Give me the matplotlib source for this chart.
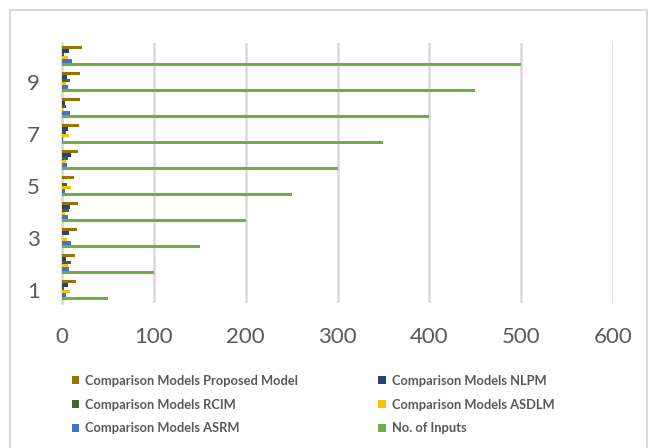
import matplotlib
matplotlib.use('Agg')
import matplotlib.pyplot as plt
from matplotlib.patches import Rectangle
import numpy as np

plt.rcParams['font.family'] = ['Lato', 'DejaVu Sans']

categories = [1, 2, 3, 4, 5, 6, 7, 8, 9, 10]
proposed = [15, 14, 16.3, 17, 12.7, 17.4, 18.5, 19.5, 20, 22]
nlpm = [7, 4, 7.2, 8.7, 0, 9.4, 6, 3, 5, 8]
rcim = [2.5, 9.4, 0.5, 8, 5.8, 7, 4, 4, 9, 2]
asdlm = [8.3, 6.5, 5, 3, 9.8, 4, 7.6, 1, 4, 7]
asrm = [4, 8, 9.4, 6.5, 3, 5.5, 1, 9, 6, 10.5]
inputs = [50, 100, 150, 200, 250, 300, 350, 400, 450, 500]

series = [
    ('No. of Inputs', inputs, '#70AD47'),
    ('Comparison Models ASRM', asrm, '#4472C4'),
    ('Comparison Models ASDLM', asdlm, '#FFC000'),
    ('Comparison Models RCIM', rcim, '#43682B'),
    ('Comparison Models NLPM', nlpm, '#264478'),
    ('Comparison Models Proposed Model', proposed, '#997300'),
]

fig = plt.figure(figsize=(6.48, 4.48), dpi=100)
ax = fig.add_axes([62 / 648, 1 - 303 / 448, 551 / 648, 260 / 448])

y = np.array(categories, dtype=float)
h = 0.13
handles = {}
for i, (name, vals, col) in enumerate(series):
    b = ax.barh(y + (i - 2.5) * h, vals, height=h, color=col, label=name, zorder=3)
    handles[name] = b

ax.set_xlim(0, 600)
ax.set_ylim(0.5, 10.5)
ax.set_xticks(range(0, 601, 100))
ax.set_yticks([1, 3, 5, 7, 9])
ax.tick_params(length=0, labelsize=16, labelcolor='#595959')
ax.tick_params(axis='y', pad=16)
ax.tick_params(axis='x', pad=17)
ax.grid(axis='x', color='#D9D9D9', linewidth=1.8, zorder=0)
for s in ['top', 'bottom', 'right']:
    ax.spines[s].set_visible(False)
ax.spines['left'].set_color('#D9D9D9')
ax.spines['left'].set_linewidth(1.8)

order = ['Comparison Models Proposed Model', 'Comparison Models RCIM', 'Comparison Models ASRM',
         'Comparison Models NLPM', 'Comparison Models ASDLM', 'No. of Inputs']
leg = fig.legend([handles[n] for n in order], order, ncol=2, loc='upper left',
                 bbox_to_anchor=(60 / 648, 1 - 363 / 448), frameon=False,
                 prop={'size': 9.3, 'weight': 'bold'}, handlelength=0.6, handleheight=0.6,
                 handletextpad=0.45, columnspacing=6.2, labelspacing=0.92)
for t in leg.get_texts():
    t.set_color('#595959')

fig.patches.append(Rectangle((10 / 648, -0.1), 637 / 648, 1.1 - 10 / 448, transform=fig.transFigure,
                             fill=False, edgecolor='#D9D9D9', linewidth=1.5))

fig.savefig('out.png', dpi=100)
